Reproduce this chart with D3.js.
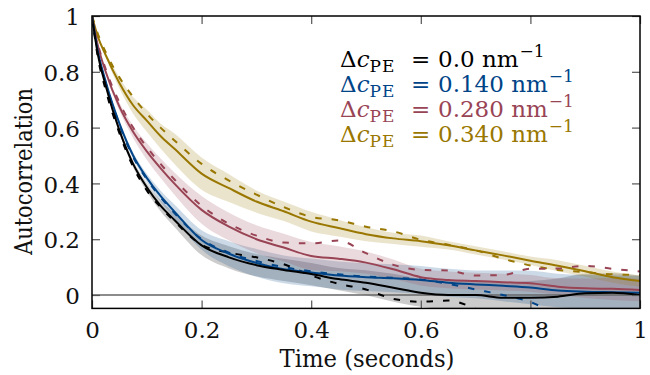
<!DOCTYPE html>
<html>
<head>
<meta charset="utf-8">
<script src="https://cdn.jsdelivr.net/npm/d3@7"></script>
<style>
  body { margin: 0; background: #fff; }
</style>
</head>
<body>
<svg id="chart" width="650" height="375"></svg>
<script>
// time samples (seconds)
var times = [0, 0.01, 0.025, 0.05, 0.075, 0.1, 0.125, 0.15, 0.2, 0.25, 0.3, 0.35, 0.4,
             0.45, 0.5, 0.55, 0.6, 0.65, 0.7, 0.75, 0.8, 0.85, 0.9, 0.95, 1];

// dc = 0.0
var blackMean   = [1, 0.87, 0.75, 0.59, 0.47, 0.386, 0.32, 0.27, 0.178, 0.135, 0.107, 0.09, 0.075,
                   0.057, 0.044, 0.026, 0.008, 0.0, 0.0, -0.01, -0.01, -0.006, 0.006, 0.008, 0.0];
var blackAlt    = [1, 0.86, 0.735, 0.58, 0.46, 0.375, 0.315, 0.265, 0.18, 0.152, 0.135, 0.11, 0.07,
                   0.04, 0.02, -0.014, -0.024, -0.02, -0.05, -0.1, -0.12, -0.14, -0.15, -0.16, -0.17];
var blackSpread = [0, 0.003, 0.006, 0.01, 0.012, 0.015, 0.02, 0.025, 0.035, 0.04, 0.04, 0.04, 0.04,
                   0.04, 0.045, 0.05, 0.05, 0.05, 0.05, 0.055, 0.06, 0.065, 0.07, 0.07, 0.07];

// dc = 0.140
var blueMean   = [1, 0.88, 0.765, 0.615, 0.5, 0.42, 0.355, 0.3, 0.197, 0.148, 0.115, 0.092, 0.081,
                  0.07, 0.064, 0.06, 0.054, 0.044, 0.038, 0.033, 0.027, 0.016, 0.012, 0.01, 0.008];
var blueAlt    = [1, 0.875, 0.76, 0.61, 0.495, 0.415, 0.35, 0.295, 0.2, 0.152, 0.122, 0.1, 0.085,
                  0.074, 0.066, 0.062, 0.056, 0.04, 0.02, 0.0, -0.025, -0.07, -0.1, -0.12, -0.14];
var blueSpread = [0, 0.003, 0.006, 0.01, 0.012, 0.015, 0.02, 0.025, 0.035, 0.045, 0.05, 0.05, 0.05,
                  0.05, 0.05, 0.05, 0.05, 0.05, 0.05, 0.055, 0.06, 0.06, 0.06, 0.06, 0.06];

// dc = 0.280
var redMean   = [1, 0.9, 0.8, 0.675, 0.585, 0.515, 0.455, 0.4, 0.305, 0.245, 0.2, 0.17, 0.14,
                 0.13, 0.116, 0.092, 0.064, 0.054, 0.05, 0.046, 0.042, 0.03, 0.024, 0.022, 0.018];
var redAlt    = [1, 0.905, 0.81, 0.69, 0.6, 0.53, 0.47, 0.415, 0.32, 0.255, 0.213, 0.188, 0.185,
                 0.195, 0.15, 0.108, 0.09, 0.088, 0.07, 0.072, 0.094, 0.095, 0.104, 0.094, 0.084];
var redSpread = [0, 0.004, 0.008, 0.015, 0.022, 0.03, 0.035, 0.04, 0.05, 0.05, 0.05, 0.05, 0.05,
                 0.045, 0.04, 0.035, 0.03, 0.03, 0.03, 0.03, 0.03, 0.03, 0.035, 0.04, 0.04];

// dc = 0.340
var goldMean   = [1, 0.93, 0.86, 0.76, 0.68, 0.625, 0.57, 0.525, 0.435, 0.383, 0.335, 0.3, 0.263,
                  0.24, 0.218, 0.203, 0.193, 0.178, 0.16, 0.142, 0.123, 0.105, 0.085, 0.064, 0.05];
var goldAlt    = [1, 0.94, 0.87, 0.78, 0.71, 0.65, 0.6, 0.555, 0.47, 0.41, 0.36, 0.315, 0.28,
                  0.268, 0.245, 0.228, 0.198, 0.18, 0.16, 0.13, 0.106, 0.09, 0.082, 0.074, 0.072];
var goldSpread = [0, 0.005, 0.01, 0.02, 0.03, 0.04, 0.045, 0.055, 0.058, 0.05, 0.04, 0.035, 0.035,
                  0.03, 0.025, 0.02, 0.02, 0.015, 0.015, 0.015, 0.015, 0.02, 0.02, 0.02, 0.02];

var xTicks = [0, 0.2, 0.4, 0.6, 0.8, 1];
var yTicks = [0, 0.2, 0.4, 0.6, 0.8, 1];
var legendValues = ["0.0", "0.140", "0.280", "0.340"];

var series = [
  { mean: blackMean, alt: blackAlt, spread: blackSpread, color: "#000000" },
  { mean: blueMean,  alt: blueAlt,  spread: blueSpread,  color: "#004488" },
  { mean: redMean,   alt: redAlt,   spread: redSpread,   color: "#994455" },
  { mean: goldMean,  alt: goldAlt,  spread: goldSpread,  color: "#997700" }
];

var FONT = "DejaVu Serif";
var margin = { left: 92, right: 10, top: 16, bottom: 66.6 };
var width = 650, height = 375;

var svg = d3.select("#chart");

var x = d3.scaleLinear().domain([0, 1]).range([margin.left, width - margin.right]);
var y = d3.scaleLinear().domain([-0.048, 1]).range([height - margin.bottom, margin.top]);

svg.append("clipPath").attr("id", "plotclip")
  .append("rect")
  .attr("x", x(0)).attr("y", y(1))
  .attr("width", x(1) - x(0)).attr("height", y(-0.048) - y(1));

var plot = svg.append("g").attr("clip-path", "url(#plotclip)");

var fmt = function (d) { return (d === 0 || d === 1) ? String(d) : d.toFixed(1); };

// bands
var band = d3.area()
  .x(function (d, i) { return x(times[i]); })
  .y0(function (d) { return y(d.m - d.s); })
  .y1(function (d) { return y(d.m + d.s); })
  .curve(d3.curveMonotoneX);

series.forEach(function (s) {
  var pts = s.mean.map(function (m, i) { return { m: m, s: s.spread[i] }; });
  plot.append("path")
    .datum(pts)
    .attr("d", band)
    .attr("fill", s.color)
    .attr("fill-opacity", 0.2)
    .attr("stroke", "none");
});

// zero line
plot.append("line")
  .attr("x1", x(0)).attr("x2", x(1))
  .attr("y1", y(0)).attr("y2", y(0))
  .attr("stroke", "#666").attr("stroke-width", 1.3);

var line = d3.line()
  .x(function (d, i) { return x(times[i]); })
  .y(function (d) { return y(d); })
  .curve(d3.curveMonotoneX);

// dashed first, then solid
series.slice().reverse().forEach(function (s) {
  plot.append("path")
    .datum(s.alt)
    .attr("d", line)
    .attr("fill", "none")
    .attr("stroke", s.color)
    .attr("stroke-width", 2)
    .attr("stroke-dasharray", "6.5,10");
});
series.slice().reverse().forEach(function (s) {
  plot.append("path")
    .datum(s.mean)
    .attr("d", line)
    .attr("fill", "none")
    .attr("stroke", s.color)
    .attr("stroke-width", 2);
});

// axes
var bottomAxis = d3.axisBottom(x).tickValues(xTicks).tickFormat(fmt).tickSizeInner(-8).tickSizeOuter(0).tickPadding(13);
var topAxis = d3.axisTop(x).tickValues(xTicks).tickFormat("").tickSizeInner(-8).tickSizeOuter(0);
var leftAxis = d3.axisLeft(y).tickValues(yTicks).tickFormat(fmt).tickSizeInner(-8).tickSizeOuter(0).tickPadding(12);
var rightAxis = d3.axisRight(y).tickValues(yTicks).tickFormat("").tickSizeInner(-8).tickSizeOuter(0);

function styleAxis(g) {
  g.attr("font-family", FONT).attr("font-size", 23);
  g.select(".domain").remove();
  g.selectAll(".tick line").attr("stroke", "#555").attr("stroke-width", 1.2);
  g.selectAll(".tick text").attr("fill", "#111").attr("font-family", FONT);
}

svg.append("g").attr("transform", "translate(0," + y(-0.048) + ")").call(bottomAxis).call(styleAxis);
svg.append("g").attr("transform", "translate(0," + y(1) + ")").call(topAxis).call(styleAxis);
svg.append("g").attr("transform", "translate(" + x(0) + ",0)").call(leftAxis).call(styleAxis)
  .selectAll(".tick text").attr("dy", "0.38em");
svg.append("g").attr("transform", "translate(" + x(1) + ",0)").call(rightAxis).call(styleAxis);

// frame
svg.append("rect")
  .attr("x", x(0)).attr("y", y(1))
  .attr("width", x(1) - x(0)).attr("height", y(-0.048) - y(1))
  .attr("fill", "none").attr("stroke", "#000").attr("stroke-width", 1.5);

// axis titles
svg.append("text")
  .attr("x", (x(0) + x(1)) / 2 + 1).attr("y", 366.5)
  .attr("text-anchor", "middle")
  .attr("font-family", FONT).attr("font-size", 24)
  .attr("textLength", 175).attr("lengthAdjust", "spacingAndGlyphs")
  .attr("fill", "#111")
  .text("Time (seconds)");

svg.append("text")
  .attr("transform", "translate(32,171.5) rotate(-90)")
  .attr("text-anchor", "middle")
  .attr("font-family", FONT).attr("font-size", 24)
  .attr("textLength", 167).attr("lengthAdjust", "spacingAndGlyphs")
  .attr("fill", "#111")
  .text("Autocorrelation");

// legend
var legendY = [66.5, 92, 117, 142];
series.forEach(function (s, i) {
  var t = svg.append("text")
    .attr("x", 340).attr("y", legendY[i])
    .attr("fill", s.color)
    .attr("font-family", FONT)
    .attr("font-size", 23);
  t.append("tspan").text("\u0394");
  t.append("tspan").attr("font-style", "italic").text("c");
  t.append("tspan").attr("dy", 5).attr("font-size", 17).attr("letter-spacing", 1).text("PE");
  t.append("tspan").attr("x", 411).attr("dy", -5).text("=");
  t.append("tspan").attr("x", 438).text(legendValues[i] + "\u00a0nm");
  t.append("tspan").attr("dy", -10).attr("dx", 1).attr("font-size", 17).text("\u22121");
});
</script>
</body>
</html>
